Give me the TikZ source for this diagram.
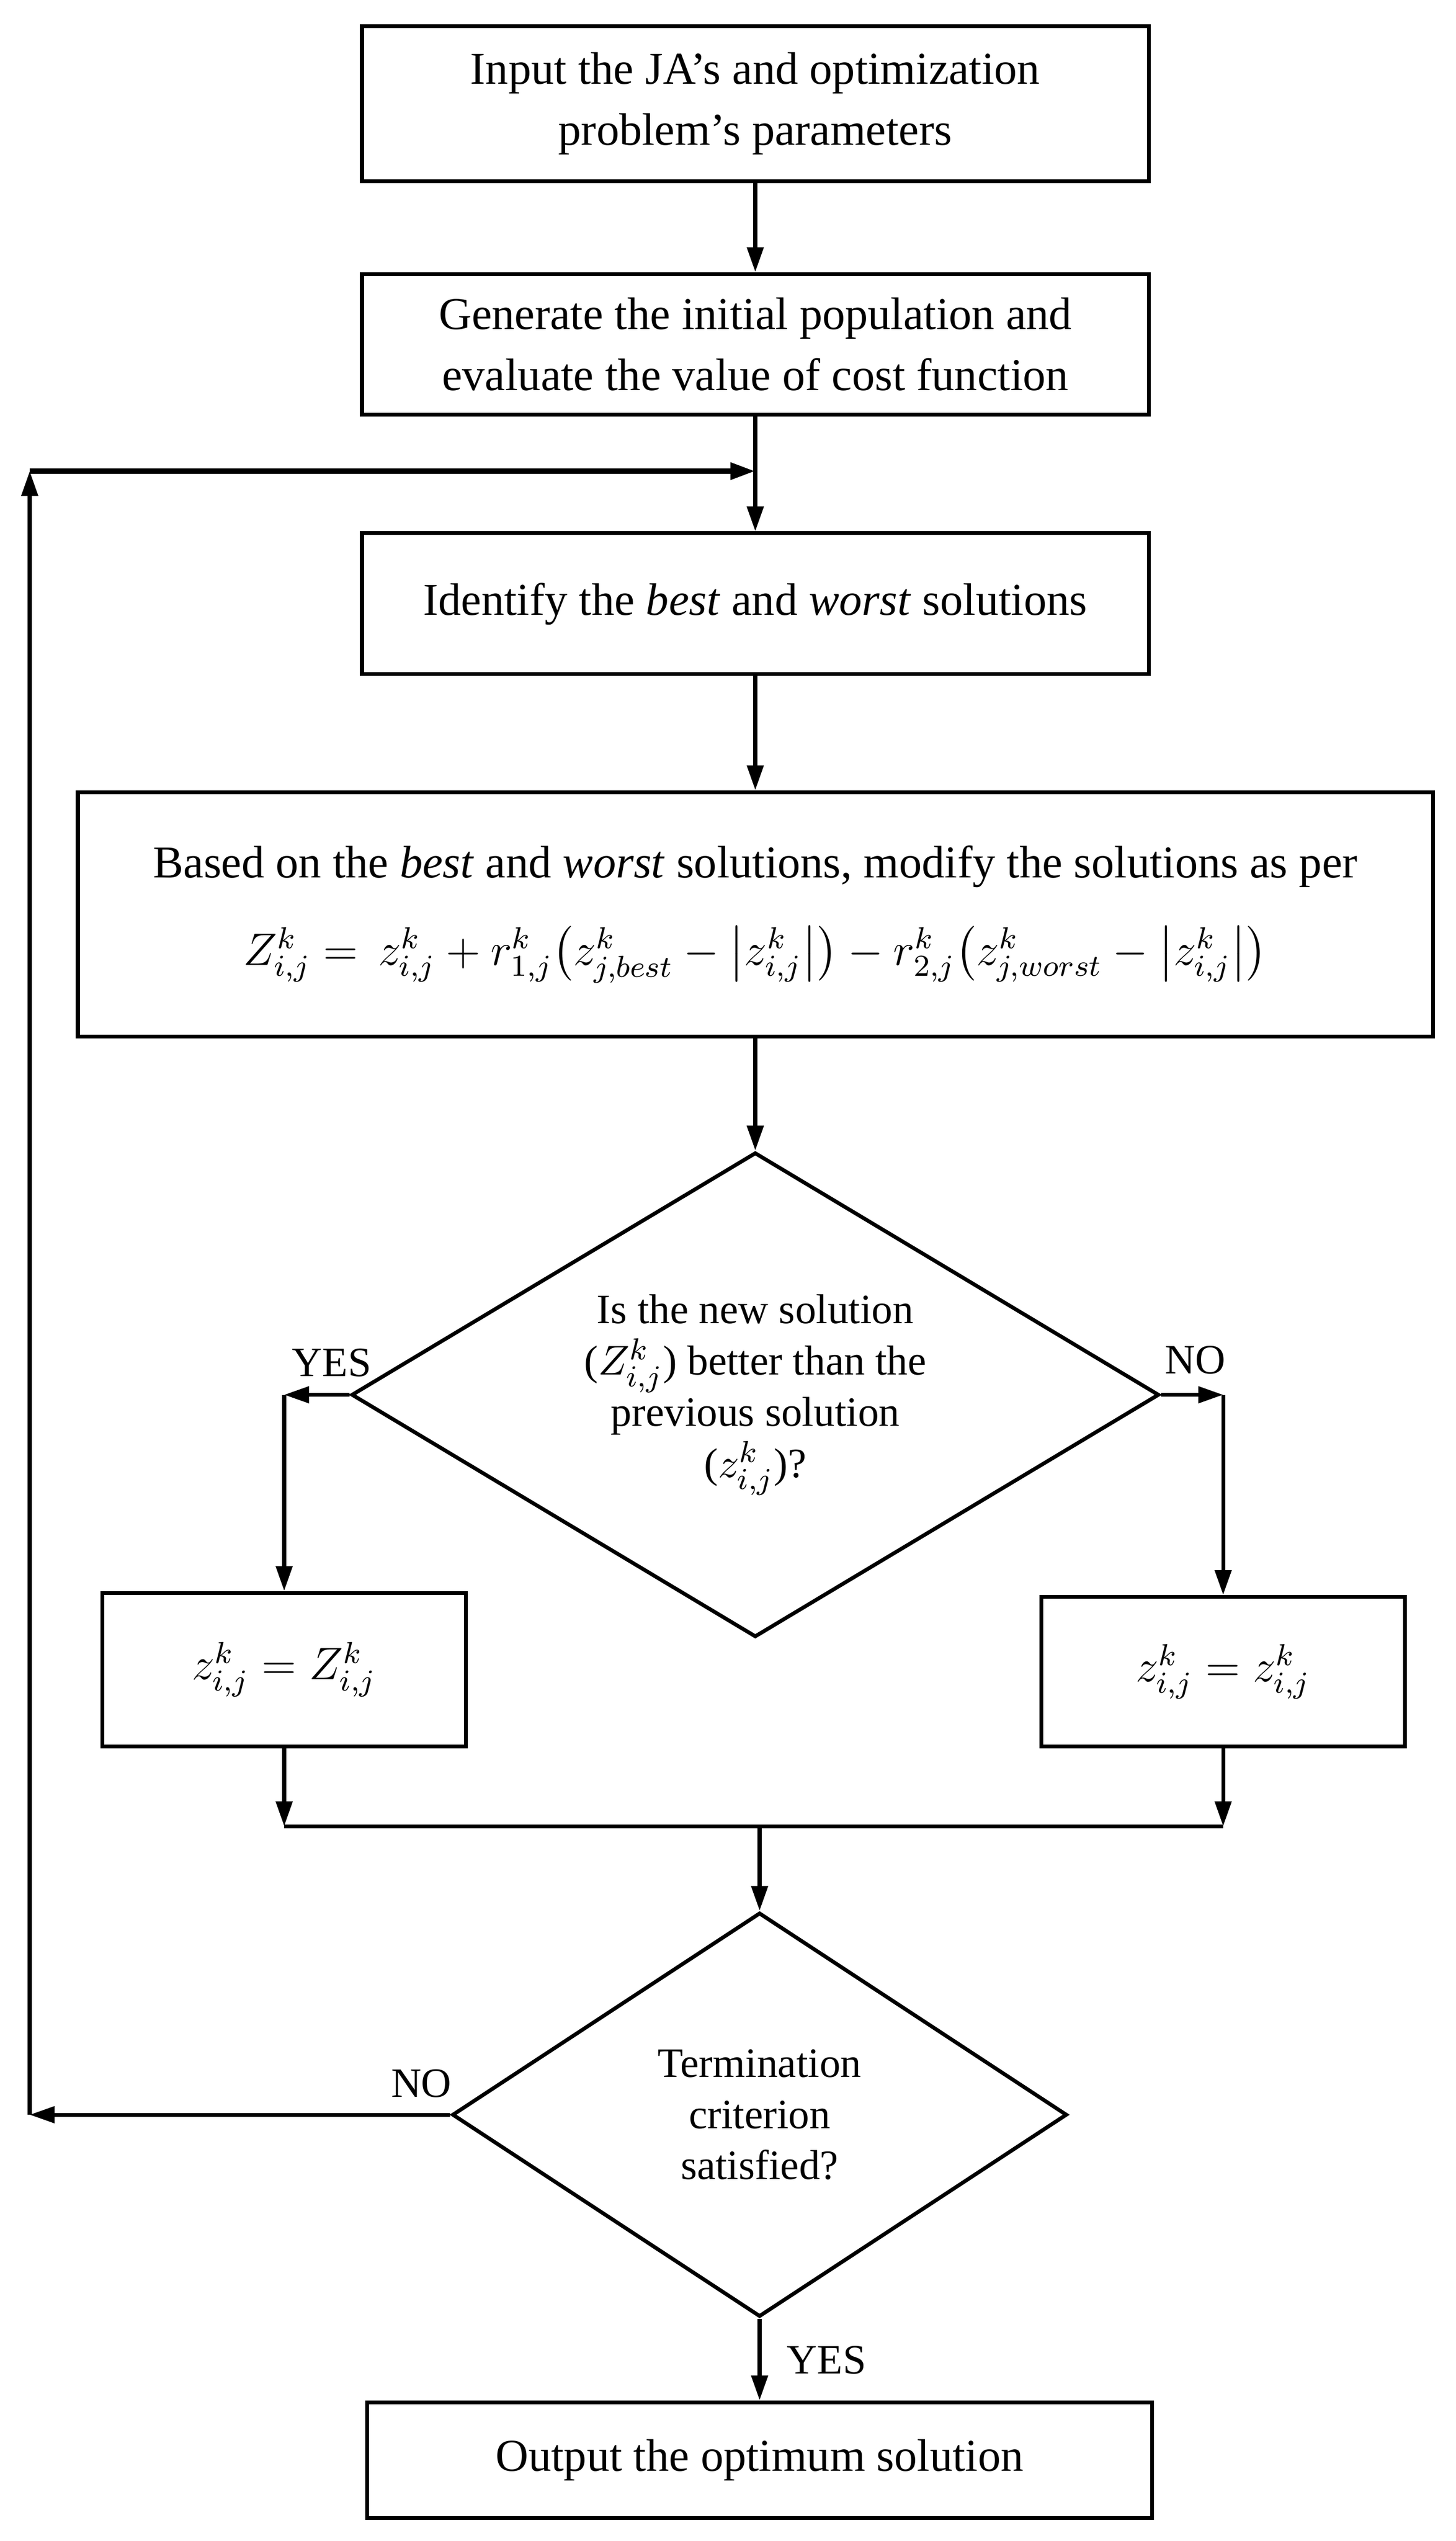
\documentclass[tikz,border=0pt]{standalone}
\usepackage{amsmath}
\usepackage{fontspec}
\setmainfont{Liberation Serif}
\usetikzlibrary{arrows.meta, shapes.geometric, positioning}

\begin{document}
\begin{tikzpicture}[%
		font=\fontsize{12}{16}\selectfont,
		line width=1pt,
		procbox/.style={draw, rectangle, align=center, inner sep=0pt},
		decision/.style={draw, diamond, align=center, inner sep=0pt, font=\fontsize{11}{13.5}\selectfont},
		flow/.style={-{Triangle[length=2.3mm,width=1.5mm]}},
		answer/.style={inner sep=0pt, font=\fontsize{11}{13}\selectfont},
		]
	\useasboundingbox (0,0) rectangle (13.475,-23.515);
	% process boxes
	\node[procbox, minimum width=7.28cm, minimum height=1.435cm] (inp) at (6.99,-0.958) {Input the JA’s and optimization\\problem’s parameters};
	\node[procbox, minimum width=7.28cm, minimum height=1.30cm] (gen) at (6.99,-3.185) {Generate the initial population and\\evaluate the value of cost function};
	\node[procbox, minimum width=7.28cm, minimum height=1.305cm] (ident) at (6.99,-5.587) {Identify the \textit{best} and \textit{worst} solutions};
	\node[procbox, minimum width=12.54cm, minimum height=2.26cm] (modify) at (6.99,-8.46) {Based on the \textit{best} and \textit{worst} solutions, modify the solutions as per\\[7pt]
		$Z^k_{i,j} =\, z^k_{i,j} + r^k_{1,j}\bigl(z^k_{j,best} - \bigl|z^k_{i,j}\bigr|\bigr) - r^k_{2,j}\bigl(z^k_{j,worst} - \bigl|z^k_{i,j}\bigr|\bigr)$};
	\node[decision, aspect=1.667, minimum width=7.475cm, minimum height=4.485cm] (better) at (6.99,-12.9075) {Is the new solution\\($Z^k_{i,j}$) better than the\\previous solution\\($z^k_{i,j}$)?};
	\node[procbox, minimum width=3.365cm, minimum height=1.42cm] (keepnew) at (2.63,-15.45) {$z^k_{i,j} = Z^k_{i,j}$};
	\node[procbox, minimum width=3.365cm, minimum height=1.385cm] (keepold) at (11.32,-15.47) {$z^k_{i,j} = z^k_{i,j}$};
	\node[decision, aspect=1.52, minimum width=5.69cm, minimum height=3.74cm] (stop) at (7.03,-19.57) {Termination\\criterion\\satisfied?};
	\node[procbox, minimum width=7.265cm, minimum height=1.07cm] (output) at (7.03,-22.765) {Output the optimum solution};

	% labels
	\node[answer] (yes1) at (3.07,-12.61) {YES};
	\node[answer] (no1) at (11.06,-12.585) {NO};
	\node[answer] (no2) at (3.9,-19.28) {NO};
	\node[answer] (yes2) at (7.65,-21.84) {YES};

	% turning points
	\coordinate (yesturn) at (better.west -| keepnew.north);
	\coordinate (noturn) at (better.east -| keepold.north);
	\coordinate (mergeax) at (7.03,-16.9);
	\coordinate (mergeL) at (keepnew.south |- mergeax);
	\coordinate (mergeR) at (keepold.south |- mergeax);
	\coordinate (loopin) at (6.99,-4.36);
	\coordinate (looptop) at (0.275,-4.36);
	\coordinate (loopbot) at (stop.west -| looptop);

	% connectors
	\draw[flow] (inp) -- (gen);
	\draw[flow] (gen) -- (ident);
	\draw[flow] (ident) -- (modify);
	\draw[flow] (modify) -- (better);
	\draw[flow] (better.west) -- (yesturn);
	\draw[flow] (yesturn) -- (keepnew.north);
	\draw[flow] (better.east) -- (noturn);
	\draw[flow] (noturn) -- (keepold.north);
	\draw[flow] (keepnew.south) -- (mergeL);
	\draw[flow] (keepold.south) -- (mergeR);
	\draw (mergeL) -- (mergeR);
	\draw[flow] (mergeax) -- (stop.north);
	\draw[flow] (stop.south) -- (output.north);
	\draw[flow] (stop.west) -- (loopbot);
	\draw[flow] (loopbot) -- (looptop);
	\draw[flow, line width=1.4pt] (looptop) -- (loopin);
\end{tikzpicture}
\end{document}
